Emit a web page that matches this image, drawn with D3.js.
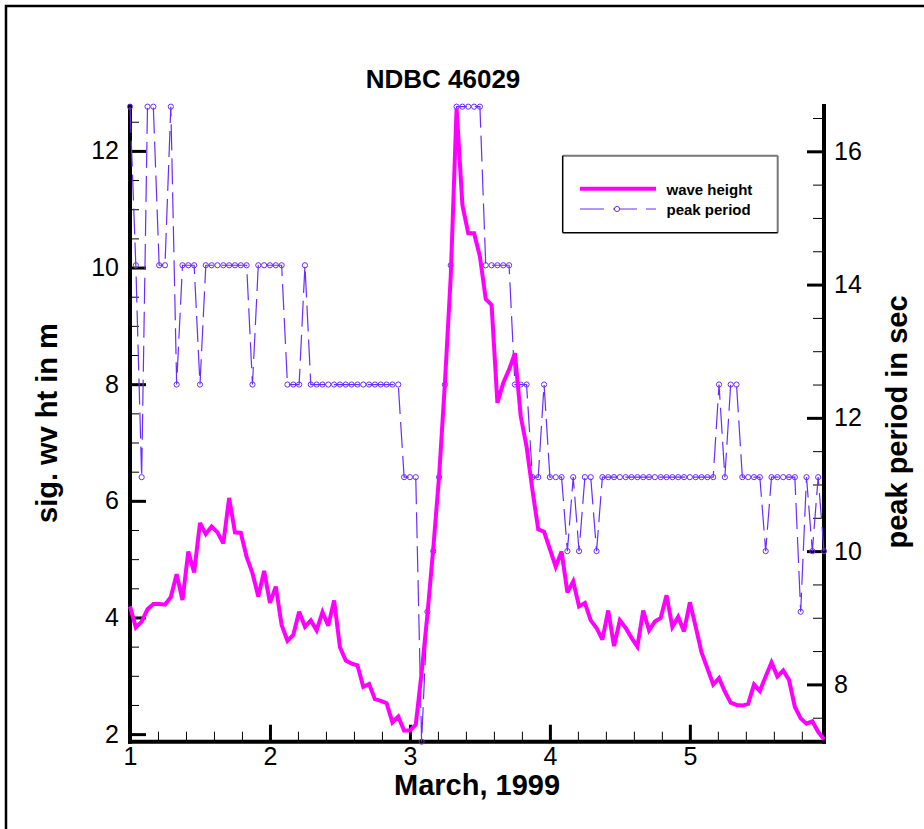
<!DOCTYPE html>
<html>
<head>
<meta charset="utf-8">
<script src="https://cdn.jsdelivr.net/npm/d3@7"></script>
<style>
  body { margin: 0; background: #fff; }
  svg { display: block; }
  text { font-family: "Liberation Sans", Arial, Helvetica, sans-serif; }
</style>
</head>
<body>
<svg id="chart" width="924" height="829"></svg>
<script>
// NDBC buoy 46029, hourly observations starting 1 March 1999 00:00
const startDay = 1;
const hoursPerDay = 24;

// significant wave height (m), hourly
const waveHeight = [
  4.19, 3.83, 3.93, 4.14, 4.23, 4.23, 4.22, 4.35, 4.74, 4.30,
  5.13, 4.77, 5.62, 5.43, 5.56, 5.46, 5.27, 6.05, 5.46, 5.45,
  5.04, 4.76, 4.36, 4.80, 4.25, 4.53, 3.87, 3.60, 3.70, 4.10,
  3.84, 3.95, 3.78, 4.09, 3.86, 4.29, 3.49, 3.26, 3.21, 3.18,
  2.81, 2.86, 2.60, 2.57, 2.53, 2.20, 2.30, 2.06, 2.06, 2.16,
  3.05, 4.05, 5.18, 6.42, 8.02, 9.85, 12.73, 11.07, 10.59, 10.59,
  10.19, 9.46, 9.36, 7.68, 8.02, 8.25, 8.53, 7.45, 6.93, 6.19,
  5.51, 5.47, 5.17, 4.87, 5.13, 4.43, 4.62, 4.19, 4.25, 3.95,
  3.82, 3.62, 4.12, 3.51, 3.95, 3.82, 3.65, 3.50, 4.12, 3.78,
  3.93, 3.99, 4.38, 3.84, 4.01, 3.76, 4.26, 3.84, 3.40, 3.13,
  2.85, 2.96, 2.73, 2.54, 2.50, 2.49, 2.52, 2.85, 2.74, 2.99,
  3.23, 2.99, 3.09, 2.93, 2.47, 2.27, 2.18, 2.22, 2.04, 1.91
];

// dominant (peak) wave period (s), hourly
const peakPeriod = [
  16.67, 14.29, 11.11, 16.67, 16.67, 14.29, 14.29, 16.67, 12.5, 14.29,
  14.29, 14.29, 12.5, 14.29, 14.29, 14.29, 14.29, 14.29, 14.29, 14.29,
  14.29, 12.5, 14.29, 14.29, 14.29, 14.29, 14.29, 12.5, 12.5, 12.5,
  14.29, 12.5, 12.5, 12.5, 12.5, 12.5, 12.5, 12.5, 12.5, 12.5,
  12.5, 12.5, 12.5, 12.5, 12.5, 12.5, 12.5, 11.11, 11.11, 11.11,
  7.14, 9.09, 10.0, 11.11, 12.5, 14.29, 16.67, 16.67, 16.67, 16.67,
  16.67, 14.29, 14.29, 14.29, 14.29, 14.29, 12.5, 12.5, 12.5, 11.11,
  11.11, 12.5, 11.11, 11.11, 11.11, 10.0, 11.11, 10.0, 11.11, 11.11,
  10.0, 11.11, 11.11, 11.11, 11.11, 11.11, 11.11, 11.11, 11.11, 11.11,
  11.11, 11.11, 11.11, 11.11, 11.11, 11.11, 11.11, 11.11, 11.11, 11.11,
  11.11, 12.5, 11.11, 12.5, 12.5, 11.11, 11.11, 11.11, 11.11, 10.0,
  11.11, 11.11, 11.11, 11.11, 11.11, 9.09, 11.11, 10.0, 11.11, 10.0
];

// axis ticks
const dayTicks = [1, 2, 3, 4, 5];
const heightTicks = [2, 4, 6, 8, 10, 12];
const periodTicks = [8, 10, 12, 14, 16];

const chartTitle = "NDBC 46029";
const xTitle = "March, 1999";
const yLeftTitle = "sig. wv ht in m";
const yRightTitle = "peak period in sec";
const legendLabels = ["wave height", "peak period"];

const dayOf = i => startDay + i / hoursPerDay;
const nPts = waveHeight.length;

const svg = d3.select("#chart");
const plotLeft = 130, plotRight = 824, plotTop = 106, plotBottom = 741.7;
const heightColor = "#ff00ff";
const periodColor = "#6a2cff";

const x = d3.scaleLinear().domain([startDay, dayOf(nPts - 1)]).range([plotLeft, plotRight]);
const yL = d3.scaleLinear().domain([1.87, 12.77]).range([plotBottom, plotTop]);
const yR = d3.scaleLinear().domain([7.14, 16.68]).range([plotBottom, plotTop]);

// outer frame
svg.append("rect")
  .attr("x", 6).attr("y", 6).attr("width", 940).attr("height", 850)
  .attr("fill", "none").attr("stroke", "#000").attr("stroke-width", 2.5);

// minor ticks
const minorDays = d3.range(1, 5.96, 0.2).filter(v => Math.abs(v - Math.round(v)) > 1e-6);
const minorHeights = d3.range(2.5, 12.8, 0.5).filter(v => Math.abs(v / 2 - Math.round(v / 2)) > 1e-6);
const minorPeriods = d3.range(7.5, 16.7, 0.5).filter(v => Math.abs(v / 2 - Math.round(v / 2)) > 1e-6);

function styleMinor(g) {
  g.select(".domain").remove();
  g.selectAll("line").attr("stroke", "#000").attr("stroke-width", 1);
}
function styleMajor(g) {
  g.select(".domain").remove();
  g.selectAll("line").attr("stroke", "#000").attr("stroke-width", 3);
  g.selectAll("text").attr("font-size", 25).attr("fill", "#000")
    .attr("font-family", "'Liberation Sans', Arial, sans-serif");
}

svg.append("g").attr("transform", `translate(0,${plotBottom})`)
  .call(d3.axisBottom(x).tickValues(minorDays).tickSize(-10).tickFormat(""))
  .call(styleMinor);
svg.append("g").attr("transform", `translate(${plotLeft},0)`)
  .call(d3.axisLeft(yL).tickValues(minorHeights).tickSize(-9).tickFormat(""))
  .call(styleMinor);
svg.append("g").attr("transform", `translate(${plotRight},0)`)
  .call(d3.axisRight(yR).tickValues(minorPeriods).tickSize(-11).tickFormat(""))
  .call(styleMinor);

// major ticks with labels
svg.append("g").attr("transform", `translate(0,${plotBottom})`)
  .call(d3.axisBottom(x).tickValues(dayTicks).tickSize(-17).tickPadding(6).tickFormat(d3.format("d")))
  .call(styleMajor);
svg.append("g").attr("transform", `translate(${plotLeft},0)`)
  .call(d3.axisLeft(yL).tickValues(heightTicks).tickSize(-16).tickPadding(11).tickFormat(d3.format("d")))
  .call(styleMajor);
svg.append("g").attr("transform", `translate(${plotRight},0)`)
  .call(d3.axisRight(yR).tickValues(periodTicks).tickSize(-17).tickPadding(10).tickFormat(d3.format("d")))
  .call(styleMajor);

// axis lines
const axisLines = [
  [plotLeft, plotBottom, plotRight, plotBottom],
  [plotLeft, plotTop, plotLeft, plotBottom],
  [plotRight, plotTop, plotRight, plotBottom]
];
svg.append("g").selectAll("line").data(axisLines).join("line")
  .attr("x1", d => d[0]).attr("y1", d => d[1]).attr("x2", d => d[2]).attr("y2", d => d[3])
  .attr("stroke", "#000").attr("stroke-width", 4).attr("stroke-linecap", "square");

// peak period: dashed line with open circle markers
const periodLine = d3.line().x((d, i) => x(dayOf(i))).y(d => yR(d));
svg.append("path").datum(peakPeriod)
  .attr("d", periodLine)
  .attr("fill", "none").attr("stroke", periodColor).attr("stroke-width", 1.2)
  .attr("stroke-dasharray", "26,8");
svg.append("g").selectAll("circle").data(peakPeriod).join("circle")
  .attr("cx", (d, i) => x(dayOf(i))).attr("cy", d => yR(d)).attr("r", 2.6)
  .attr("fill", "none").attr("stroke", periodColor).attr("stroke-width", 1);

// wave height: thick solid line
const heightLine = d3.line().x((d, i) => x(dayOf(i))).y(d => yL(d));
svg.append("path").datum(waveHeight)
  .attr("d", heightLine)
  .attr("fill", "none").attr("stroke", heightColor).attr("stroke-width", 4)
  .attr("stroke-linejoin", "miter").attr("stroke-miterlimit", 3);

// titles
svg.append("text").attr("x", 443).attr("y", 88).attr("text-anchor", "middle")
  .attr("font-size", 26).attr("font-weight", "bold").text(chartTitle);
svg.append("text").attr("x", 477).attr("y", 795).attr("text-anchor", "middle")
  .attr("font-size", 29).attr("font-weight", "bold").text(xTitle);
svg.append("text").attr("transform", "translate(57,423) rotate(-90)").attr("text-anchor", "middle")
  .attr("font-size", 29).attr("font-weight", "bold").text(yLeftTitle);
svg.append("text").attr("transform", "translate(907,422) rotate(-90)").attr("text-anchor", "middle")
  .attr("font-size", 29).attr("font-weight", "bold").text(yRightTitle);

// legend
const lg = svg.append("g");
lg.append("rect").attr("x", 562.7).attr("y", 155.7).attr("width", 215).attr("height", 77)
  .attr("fill", "#fff").attr("stroke", "none");
lg.append("line").attr("x1", 562.7).attr("y1", 155.7).attr("x2", 777.7).attr("y2", 155.7)
  .attr("stroke", "#777").attr("stroke-width", 2);
lg.append("line").attr("x1", 777.7).attr("y1", 155.7).attr("x2", 777.7).attr("y2", 232.7)
  .attr("stroke", "#777").attr("stroke-width", 2);
lg.append("line").attr("x1", 562.7).attr("y1", 155.7).attr("x2", 562.7).attr("y2", 232.7)
  .attr("stroke", "#000").attr("stroke-width", 1.5);
lg.append("line").attr("x1", 562.7).attr("y1", 232.7).attr("x2", 777.7).attr("y2", 232.7)
  .attr("stroke", "#000").attr("stroke-width", 1.5);

lg.append("line").attr("x1", 580).attr("y1", 188.7).attr("x2", 656).attr("y2", 188.7)
  .attr("stroke", heightColor).attr("stroke-width", 4);
lg.append("line").attr("x1", 580).attr("y1", 209).attr("x2", 656).attr("y2", 209)
  .attr("stroke", periodColor).attr("stroke-width", 1.2).attr("stroke-dasharray", "24,9");
lg.append("circle").attr("cx", 617).attr("cy", 209).attr("r", 2.6)
  .attr("fill", "#fff").attr("stroke", periodColor).attr("stroke-width", 1);
lg.selectAll("text.lab").data(legendLabels).join("text").attr("class", "lab")
  .attr("x", 666.5).attr("y", (d, i) => 194.5 + i * 20.5)
  .attr("font-size", 15).attr("font-weight", "bold").text(d => d);
</script>
</body>
</html>
